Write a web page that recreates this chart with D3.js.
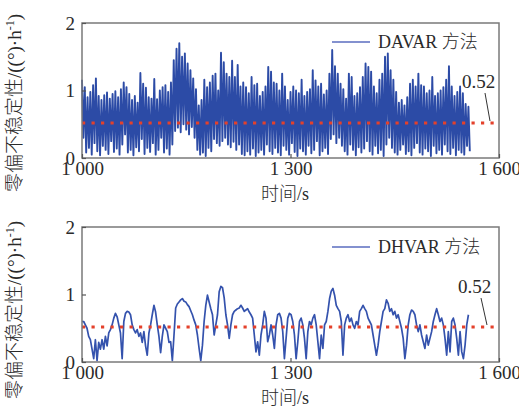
<!DOCTYPE html>
<html><head><meta charset="utf-8">
<script src="https://cdn.jsdelivr.net/npm/d3@7"></script>
<style>
body{margin:0;background:#fff}
text{font-family:"Liberation Serif","Times New Roman","Noto Sans CJK SC",serif;fill:#2a2a2a}
</style>
</head><body><svg id="c" width="519" height="411"></svg>
<script>
// ---------- data ----------
const xTicks = [1000, 1300, 1600];
const xTickLabels = ["1 000", "1 300", "1 600"];
const yTicks = [0, 1, 2];
const yTickLabels = ["0", "1", "2"];
const refLevel = 0.52;
const refLabel = "0.52";
const seriesNames = ["DAVAR 方法", "DHVAR 方法"];
const tStart = 1000, tEnd = 1556;

// DAVAR: alternating peaks / troughs (every 4 s)
const davarHigh = [
1.16,1.05,0.90,0.98,1.08,1.18,0.92,0.86,0.93,0.97,
0.88,0.95,0.99,0.90,1.02,1.12,1.05,0.95,0.86,0.92,
0.82,1.26,1.10,1.04,0.90,0.88,1.17,0.87,1.00,1.05,
1.08,0.98,1.12,1.45,1.62,1.70,1.50,1.55,1.40,1.30,
1.18,1.02,0.78,0.86,1.16,1.05,1.12,1.22,1.25,1.00,
1.56,1.42,1.25,1.20,1.44,1.20,1.38,1.06,1.12,1.05,
0.96,1.20,1.08,1.10,0.92,0.98,1.06,1.35,1.28,1.12,
1.10,1.00,1.25,1.06,0.86,0.98,1.06,1.00,0.96,1.16,
0.92,0.98,1.02,1.30,1.15,1.06,1.10,0.94,1.00,1.25,
1.60,1.36,1.25,1.10,1.02,0.88,1.25,1.20,0.92,0.96,
1.05,1.20,1.40,1.35,1.28,1.06,0.96,1.16,1.25,1.50,
1.55,1.30,1.16,0.98,0.82,0.86,0.78,0.90,1.10,1.16,
1.06,1.25,1.08,1.06,0.96,1.00,1.20,0.92,0.96,1.00,
1.05,1.16,1.36,1.06,0.92,0.98,1.06,0.96,0.80,0.76];
const davarLow = [
0.30,0.08,0.15,0.05,0.22,0.10,0.04,0.18,0.12,0.06,
0.25,0.09,0.14,0.05,0.20,0.35,0.08,0.12,0.04,0.16,
0.10,0.28,0.06,0.15,0.09,0.22,0.05,0.12,0.30,0.08,
0.14,0.05,0.20,0.40,0.45,0.38,0.50,0.42,0.35,0.46,
0.30,0.12,0.05,0.08,0.03,0.15,0.10,0.28,0.22,0.18,
0.25,0.30,0.20,0.16,0.24,0.12,0.20,0.06,0.04,0.10,
0.05,0.14,0.03,0.08,0.12,0.05,0.20,0.10,0.06,0.15,
0.08,0.04,0.18,0.12,0.05,0.22,0.09,0.03,0.14,0.10,
0.05,0.18,0.07,0.12,0.25,0.04,0.10,0.15,0.06,0.28,
0.35,0.22,0.30,0.18,0.10,0.05,0.20,0.12,0.04,0.16,
0.08,0.14,0.25,0.10,0.05,0.18,0.07,0.12,0.03,0.20,
0.30,0.15,0.08,0.05,0.12,0.20,0.06,0.10,0.04,0.15,
0.22,0.08,0.05,0.14,0.10,0.03,0.18,0.07,0.12,0.05,
0.20,0.10,0.06,0.15,0.04,0.12,0.08,0.05,0.18,0.10];

// DHVAR values (uniform sampling between tStart and tEnd)
const dhvar = [
0.60,0.60,0.55,0.50,0.38,0.33,0.19,0.05,0.33,0.02,
0.29,0.19,0.33,0.19,0.38,0.24,0.43,0.48,0.55,0.65,
0.72,0.67,0.55,0.43,0.05,0.60,0.72,0.75,0.74,0.70,
0.55,0.48,0.43,0.48,0.38,0.43,0.29,0.45,0.24,0.10,
0.43,0.55,0.70,0.84,0.74,0.55,0.38,0.14,0.38,0.55,
0.50,0.45,0.29,0.30,0.02,0.40,0.80,0.86,0.89,0.92,
0.94,0.90,0.89,0.85,0.82,0.76,0.70,0.62,0.55,0.40,
0.20,0.02,0.25,0.60,0.84,0.99,0.89,0.79,0.70,0.40,
0.55,0.70,1.04,1.12,1.10,0.95,0.70,0.55,0.35,0.55,
0.70,0.75,0.77,0.79,0.80,0.84,0.80,0.75,0.77,0.79,
0.74,0.70,0.65,0.40,0.15,0.30,0.10,0.40,0.55,0.75,
0.65,0.30,0.40,0.55,0.40,0.20,0.55,0.70,0.72,0.65,
0.45,0.05,0.35,0.65,0.72,0.70,0.60,0.40,0.05,0.30,
0.60,0.65,0.55,0.35,0.05,0.45,0.60,0.55,0.65,0.70,
0.55,0.30,0.05,0.40,0.20,0.55,0.60,0.75,0.94,1.05,
1.09,0.99,0.84,0.79,0.75,0.60,0.10,0.55,0.65,0.70,
0.60,0.65,0.55,0.50,0.60,0.55,0.75,0.79,0.84,0.79,
0.75,0.65,0.60,0.55,0.40,0.25,0.10,0.25,0.45,0.60,
0.75,0.79,0.92,0.87,0.75,0.79,0.70,0.75,0.65,0.70,
0.60,0.50,0.35,0.05,0.25,0.55,0.70,0.77,0.75,0.70,
0.55,0.45,0.55,0.40,0.30,0.20,0.40,0.25,0.35,0.45,
0.60,0.70,0.79,0.70,0.60,0.65,0.55,0.35,0.10,0.45,
0.15,0.60,0.65,0.55,0.35,0.10,0.45,0.15,0.05,0.25,
0.55,0.70];

// ---------- build series ----------
const davarStep = (tEnd - tStart) / (davarHigh.length - 1);
const davarPts = [];
davarHigh.forEach((h, i) => {
  davarPts.push([tStart + i * davarStep, h]);
  davarPts.push([tStart + i * davarStep + davarStep / 2, davarLow[i]]);
});
const dhStep = (tEnd - tStart) / (dhvar.length - 1);
const dhvarPts = dhvar.map((v, i) => [tStart + i * dhStep, v]);

// ---------- drawing ----------
const svg = d3.select("#c");
const x = d3.scaleLinear().domain([1000, 1600]).range([82, 499]);
const panels = [
  {top: 23, bottom: 158, pts: davarPts, name: seriesNames[0], lw: 1.9, color: "#2c4ba6",
   labelY: 103, legY: 42, refText: [462, 88], lead: [[485, 93], [490, 121]]},
  {top: 227, bottom: 362, pts: dhvarPts, name: seriesNames[1], lw: 1.7, color: "#3452ad",
   labelY: 310, legY: 247, refText: [458, 293], lead: [[481, 298], [487, 325]]}
];

panels.forEach(p => {
  const y = d3.scaleLinear().domain([0, 2]).range([p.bottom, p.top]);
  const g = svg.append("g");

  // series
  g.append("path").datum(p.pts)
    .attr("d", d3.line().x(d => x(d[0])).y(d => y(d[1])))
    .attr("fill", "none").attr("stroke", p.color)
    .attr("stroke-width", p.lw).attr("stroke-linejoin", "round");

  // reference line
  g.append("line")
    .attr("x1", x(1000)).attr("x2", x(1600))
    .attr("y1", y(refLevel)).attr("y2", y(refLevel))
    .attr("stroke", "#e4412b").attr("stroke-width", 3)
    .attr("stroke-dasharray", "3.2,6.3");

  // frame
  g.append("rect").attr("x", x(1000)).attr("y", y(2))
    .attr("width", x(1600) - x(1000)).attr("height", y(0) - y(2))
    .attr("fill", "none").attr("stroke", "#7a7a7a").attr("stroke-width", 1.5);

  // axes
  const ya = g.append("g").attr("transform", `translate(${x(1000)},0)`)
    .call(d3.axisLeft(y).tickValues(yTicks).tickSize(-4).tickPadding(7)
      .tickFormat((d, i) => yTickLabels[i]));
  ya.select(".domain").remove();
  ya.selectAll("line").attr("stroke", "#555").attr("stroke-width", 1.2);
  ya.selectAll("text").attr("font-size", 19).attr("fill", "#2a2a2a");

  const xa = g.append("g").attr("transform", `translate(0,${y(0)})`)
    .call(d3.axisBottom(x).tickValues(xTicks).tickSize(-4).tickPadding(4)
      .tickFormat((d, i) => xTickLabels[i]));
  xa.select(".domain").remove();
  xa.selectAll("line").attr("stroke", "#555").attr("stroke-width", 1.2);
  xa.selectAll("text").attr("font-size", 19).attr("fill", "#2a2a2a");

  // x label
  g.append("text").attr("x", 285).attr("y", p.bottom + 42)
    .attr("text-anchor", "middle").attr("font-size", 18)
    .attr("font-weight", 300)
    .text("时间/s");

  // y label
  const yl = g.append("text")
    .attr("transform", `translate(21,${p.labelY}) rotate(-90)`)
    .attr("text-anchor", "middle").attr("font-size", 19)
    .attr("font-weight", 300);
  yl.append("tspan").text("零偏不稳定性/((°)·h");
  yl.append("tspan").attr("font-size", 12).attr("dy", -7).text("-1");
  yl.append("tspan").attr("dy", 7).text(")");

  // legend
  g.append("line").attr("x1", 332).attr("x2", 370)
    .attr("y1", p.legY).attr("y2", p.legY)
    .attr("stroke", "#5a6cbf").attr("stroke-width", 1.5);
  g.append("text").attr("x", 378).attr("y", p.legY + 6)
    .attr("font-size", 18).attr("font-weight", 300)
    .text(p.name);

  // ref annotation
  g.append("text").attr("x", p.refText[0]).attr("y", p.refText[1])
    .attr("font-size", 19).text(refLabel);
  g.append("line")
    .attr("x1", p.lead[0][0]).attr("y1", p.lead[0][1])
    .attr("x2", p.lead[1][0]).attr("y2", p.lead[1][1])
    .attr("stroke", "#333").attr("stroke-width", 1);
});
</script>
</body></html>
